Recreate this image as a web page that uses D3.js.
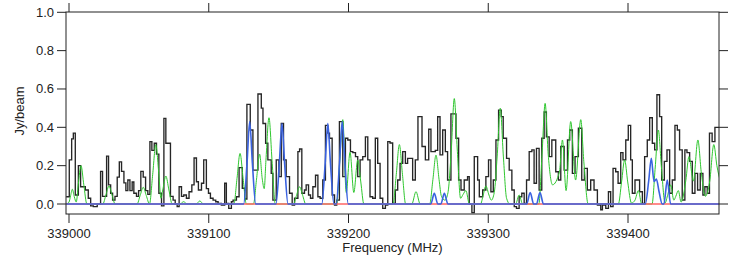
<!DOCTYPE html>
<html><head><meta charset="utf-8">
<script src="https://cdn.jsdelivr.net/npm/d3@7/dist/d3.min.js"></script>
<style>body{margin:0;background:#fff}svg{display:block}</style>
</head><body><svg id="c" width="747" height="257"></svg>
<script>
const xTicks = [339000, 339100, 339200, 339300, 339400];
const yTicks = [0.0, 0.2, 0.4, 0.6, 0.8, 1.0];

// observed spectrum: left edge of each step (MHz) and flux (Jy/beam)
const obsFreq = [
338998, 339000.2, 339001.9, 339003.1, 339004.5, 339006.7, 339008.3, 339011.7, 339013.8, 339015.5,
339017.4, 339020.2, 339022.6, 339024.0, 339026.9, 339028.3, 339029.8, 339031.2, 339032.9, 339034.5,
339036.0, 339037.6, 339039.3, 339040.7, 339042.1, 339043.6, 339045.2, 339046.4, 339048.3, 339049.8,
339051.4, 339053.1, 339054.8, 339056.4, 339057.9, 339059.3, 339061.0, 339062.6, 339064.3, 339066.2,
339067.9, 339069.3, 339072.6, 339074.5, 339076.0, 339077.4, 339078.8, 339080.5, 339082.1, 339084.0,
339085.9, 339087.9, 339089.5, 339091.2, 339092.6, 339094.8, 339096.4, 339098.3, 339099.8, 339101.2,
339103.1, 339105.0, 339106.7, 339109.0, 339111.4, 339112.6, 339114.3, 339116.2, 339117.4, 339119.8,
339121.7, 339124.0, 339125.7, 339127.3, 339129.7, 339131.6, 339135.2, 339137.6, 339138.8, 339140.7,
339142.3, 339144.7, 339145.9, 339148.3, 339150.2, 339151.9, 339153.5, 339155.4, 339157.8, 339159.7,
339161.4, 339163.8, 339165.0, 339166.6, 339168.5, 339169.7, 339171.4, 339172.8, 339174.5, 339176.4,
339178.1, 339179.7, 339181.6, 339183.5, 339185.2, 339186.4, 339188.3, 339190.0, 339191.6, 339193.5,
339195.9, 339197.8, 339199.5, 339201.4, 339203.1, 339205.0, 339206.6, 339208.3, 339210.2, 339212.1,
339213.8, 339215.4, 339217.3, 339219.2, 339220.9, 339222.6, 339224.5, 339226.4, 339228.1, 339229.7,
339231.6, 339233.5, 339235.2, 339236.9, 339238.8, 339240.7, 339242.3, 339245.9, 339247.8, 339249.7,
339252.6, 339255.0, 339257.4, 339259.0, 339262.1, 339263.8, 339265.5, 339267.4, 339269.3, 339270.9,
339273.3, 339276.9, 339278.8, 339280.5, 339282.8, 339285.2, 339286.4, 339288.3, 339290.0, 339292.4,
339293.6, 339296.0, 339298.3, 339300.2, 339301.9, 339303.6, 339305.5, 339307.4, 339309.3, 339310.7,
339313.1, 339315.0, 339316.9, 339318.6, 339320.2, 339322.1, 339324.0, 339325.7, 339327.4, 339329.3,
339331.2, 339332.8, 339334.5, 339336.4, 339338.3, 339340.0, 339341.6, 339343.6, 339345.5, 339348.3,
339350.2, 339351.9, 339354.3, 339356.7, 339358.3, 339360.2, 339362.1, 339364.5, 339366.9, 339368.8,
339370.9, 339373.3, 339375.7, 339378.1, 339380.5, 339381.7, 339384.1, 339386.0, 339387.6, 339389.3,
339391.2, 339392.9, 339394.8, 339396.4, 339398.4, 339400.2, 339401.9, 339403.1, 339405.0, 339408.3,
339410.3, 339411.9, 339413.8, 339415.5, 339417.4, 339419.1, 339420.7, 339422.6, 339424.1, 339426.0,
339427.9, 339429.8, 339431.7, 339433.6, 339435.3, 339436.9, 339438.8, 339440.7, 339442.2, 339444.1,
339446.0, 339447.9, 339449.8, 339451.7, 339453.6, 339455.0, 339456.7, 339458.3, 339460.2, 339462.2,
339466];
const obsFlux = [
0.038, 0.23, 0.34, 0.37, 0.047, 0.20, 0.09, 0.073, 0.03, -0.01,
-0.014, 0.0, 0.17, 0.04, 0.25, 0.10, 0.056, 0.02, 0.04, 0.14,
0.22, 0.17, 0.11, 0.07, 0.125, 0.07, 0.115, 0.056, 0.04, 0.07,
0.17, 0.14, 0.07, 0.05, 0.325, 0.28, 0.317, 0.26, 0.056, -0.01,
0.447, 0.317, 0.04, 0.02, 0.0, -0.014, 0.09, 0.04, 0.047, 0.03,
0.064, 0.10, 0.24, 0.116, 0.073, 0.108, 0.23, 0.08, 0.056, 0.03,
0.02, 0.012, 0.003, -0.005, 0.108, 0.003, -0.023, 0.012, 0.02, 0.038,
0.19, 0.082, 0.026, 0.52, 0.386, 0.177, 0.574, 0.50, 0.42, 0.317,
0.23, 0.16, 0.02, 0.23, 0.143, 0.42, 0.23, 0.143, 0.056, -0.005,
0.03, 0.273, 0.287, 0.056, 0.073, 0.10, 0.047, 0.03, 0.09, 0.15,
0.038, 0.03, 0.125, 0.41, 0.37, 0.343, 0.047, -0.005, 0.02, 0.43,
0.143, 0.343, 0.334, 0.273, 0.268, 0.247, 0.143, 0.23, 0.247, 0.35,
0.23, 0.038, 0.03, 0.343, 0.212, 0.03, -0.023, -0.005, 0.325, 0.318,
0.003, 0.073, 0.125, 0.212, 0.273, 0.212, 0.238, 0.125, 0.23, 0.456,
0.30, 0.23, 0.39, 0.273, 0.28, 0.455, 0.256, 0.386, 0.273, 0.125,
0.47, 0.343, 0.125, 0.073, 0.125, 0.143, 0.0, -0.045, 0.247, 0.125,
0.038, 0.073, 0.143, 0.23, 0.064, 0.125, 0.334, 0.49, 0.456, 0.343,
0.238, 0.177, 0.073, -0.014, -0.023, 0.038, 0.056, 0.003, 0.125, 0.273,
0.282, 0.108, 0.29, 0.073, 0.343, 0.48, 0.35, 0.247, 0.334, 0.168,
0.125, 0.30, 0.177, 0.334, 0.386, 0.16, 0.247, 0.395, 0.125, 0.186,
0.073, 0.125, 0.073, -0.005, -0.03, -0.005, -0.023, 0.064, -0.014, 0.186,
0.168, 0.108, 0.268, 0.23, 0.334, 0.41, 0.23, 0.056, 0.125, 0.064,
0.003, 0.247, 0.334, 0.45, 0.317, 0.282, 0.57, 0.456, 0.125, 0.222,
0.282, 0.056, 0.125, 0.41, 0.386, 0.282, 0.021, 0.282, 0.268, 0.222,
0.056, 0.16, 0.073, 0.16, 0.047, 0.09, 0.056, 0.37, 0.325, 0.40,
0.40];

// model 1 (green)
const greenFreq = [
338998, 339000.0, 339001.2, 339002.4, 339003.7, 339005.2, 339006.6, 339008.6, 339010.6, 339012.8,
339024.2, 339026.4, 339028.6, 339030.8, 339033.0, 339048.7, 339050.9, 339053.1, 339055.3, 339057.6,
339059.9, 339062.1, 339064.3, 339065.8, 339067.1, 339069.3, 339071.5, 339073.8, 339079.5, 339082.0,
339084.5, 339091.0, 339093.6, 339096.2, 339118.0, 339120.2, 339122.4, 339124.6, 339126.9, 339132.0,
339134.2, 339136.4, 339138.3, 339139.7, 339140.9, 339143.1, 339145.3, 339147.6, 339160.6, 339162.8,
339165.0, 339167.2, 339169.4, 339191.4, 339193.7, 339195.9, 339198.4, 339201.1, 339203.8, 339206.6,
339208.8, 339211.0, 339231.9, 339234.2, 339236.4, 339238.6, 339240.9, 339245.3, 339248.3, 339251.3,
339258.1, 339260.4, 339262.6, 339264.8, 339266.5, 339269.0, 339271.2, 339273.5, 339275.7, 339277.9,
339280.2, 339282.0, 339284.0, 339286.5, 339294.5, 339296.4, 339298.3, 339300.5, 339302.2, 339304.3,
339306.4, 339308.6, 339310.8, 339313.1, 339315.5, 339319.6, 339322.1, 339324.6, 339336.2, 339338.5,
339340.7, 339342.9, 339346.0, 339350.9, 339353.1, 339355.7, 339359.0, 339362.5, 339366.2, 339368.4,
339371.5, 339393.1, 339395.4, 339397.6, 339399.8, 339402.5, 339405.0, 339407.4, 339409.8, 339417.2,
339419.5, 339421.7, 339423.9, 339426.5, 339428.5, 339430.5, 339432.8, 339434.2, 339436.0, 339438.0,
339441.4, 339443.6, 339446.8, 339450.0, 339452.5, 339455.3, 339458.5, 339461.4, 339463.6, 339466.0];
const greenFlux = [
0, 0.01, 0.045, 0.077, 0.04, 0.01, 0.1, 0.2, 0.1, 0,
0, 0.047, 0.094, 0.047, 0, 0, 0.044, 0.087, 0.044, 0,
0.155, 0.31, 0.155, 0.03, 0.073, 0.146, 0.073, 0, 0, 0.012,
0, 0, 0.016, 0, 0, 0.132, 0.264, 0.132, 0, 0,
0.13, 0.26, 0.13, 0.08, 0.225, 0.45, 0.225, 0, 0, 0.045,
0.09, 0.045, 0, 0, 0.22, 0.44, 0.06, 0.27, 0.06, 0.23,
0.115, 0, 0, 0.155, 0.31, 0.155, 0, 0, 0.064, 0,
0, 0.128, 0.255, 0.128, 0.04, 0.02, 0.06, 0.275, 0.55, 0.275,
0.03, 0.05, 0.07, 0, 0, 0.047, 0.094, 0.047, 0.02, 0.06,
0.25, 0.5, 0.25, 0.03, 0, 0, 0.047, 0, 0, 0.26,
0.525, 0.26, 0.1, 0.167, 0.334, 0.07, 0.43, 0.125, 0.44, 0.22,
0, 0, 0.115, 0.23, 0.115, 0.005, 0.02, 0.07, 0, 0,
0.193, 0.386, 0.193, 0.005, 0.05, 0.1, 0.02, 0.04, 0.07, 0.01,
0.124, 0.247, 0.12, 0.334, 0.16, 0.04, 0.12, 0.31, 0.2, 0.12];

// model 2 (blue)
const blueFreq = [
338998, 339125.0, 339127.4, 339129.3, 339131.2, 339133.6, 339148.1, 339150.5, 339152.4, 339154.3,
339156.7, 339180.9, 339183.3, 339185.2, 339187.1, 339189.6, 339191.2, 339193.6, 339195.5, 339197.4,
339199.8, 339258.9, 339261.4, 339263.9, 339266.1, 339268.6, 339271.1, 339327.5, 339330.0, 339332.5,
339334.5, 339337.0, 339339.5, 339412.4, 339414.8, 339416.7, 339418.6, 339420.3, 339422.2, 339424.5,
339425.7, 339428.1, 339430.5, 339466];
const blueFlux = [
0, 0, 0.215, 0.43, 0.215, 0, 0, 0.21, 0.42, 0.21,
0, 0, 0.21, 0.42, 0.21, 0, 0, 0.215, 0.43, 0.215,
0, 0, 0.056, 0, 0, 0.056, 0, 0, 0.06, 0,
0, 0.06, 0, 0, 0.12, 0.238, 0.117, 0.13, 0.065, 0,
0, 0.125, 0, 0];

// model 3 (red)
const redFreq = [338998, 339466];
const redFlux = [0, 0];

const svg = d3.select("#c");
const L = 66, R = 719, T = 12, B = 214;
const x = d3.scaleLinear().domain([339000, 339400]).range([69, 628]);
const y = d3.scaleLinear().domain([0, 1]).range([204, 12.3]);
const fs = "13px 'Liberation Sans', Arial, sans-serif";
const ink = "#222";

svg.append("clipPath").attr("id","clp").append("rect").attr("x",L).attr("y",T).attr("width",R-L).attr("height",B-T);
const g = svg.append("g").attr("clip-path","url(#clp)");

function draw(fr, fl, color, curve, w) {
  const pts = d3.zip(fr, fl);
  const line = d3.line().x(d=>x(d[0])).y(d=>y(d[1])).curve(curve);
  g.append("path").attr("d", line(pts)).attr("fill","none").attr("stroke",color)
    .attr("stroke-width",w).attr("stroke-linejoin","miter");
}
draw(obsFreq, obsFlux, "#262626", d3.curveStepAfter, 1.35);
draw(greenFreq, greenFlux, "#2fc72f", d3.curveMonotoneX, 1);
draw(redFreq, redFlux, "#ff6464", d3.curveLinear, 1.6);
draw(blueFreq, blueFlux, "#3a62e0", d3.curveMonotoneX, 1.6);

svg.append("rect").attr("x",L).attr("y",T).attr("width",R-L).attr("height",B-T)
  .attr("fill","none").attr("stroke",ink).attr("stroke-width",1);

const ax = svg.append("g").attr("stroke",ink).attr("stroke-width",1);
yTicks.forEach(v=>{
  ax.append("line").attr("x1",L-9).attr("x2",L).attr("y1",y(v)).attr("y2",y(v));
  ax.append("line").attr("x1",R).attr("x2",R+9).attr("y1",y(v)).attr("y2",y(v));
  svg.append("text").attr("x",L-12).attr("y",y(v)+4.5).attr("text-anchor","end")
    .style("font",fs).attr("fill",ink).text(v.toFixed(1));
});
xTicks.forEach(v=>{
  ax.append("line").attr("x1",x(v)).attr("x2",x(v)).attr("y1",B).attr("y2",B+9);
  ax.append("line").attr("x1",x(v)).attr("x2",x(v)).attr("y1",T-9).attr("y2",T);
  svg.append("text").attr("x",x(v)).attr("y",237.5).attr("text-anchor","middle")
    .style("font",fs).attr("fill",ink).text(v);
});
svg.append("text").attr("x",(L+R)/2).attr("y",252).attr("text-anchor","middle")
  .style("font",fs).attr("fill",ink).text("Frequency (MHz)");
svg.append("text").attr("transform","translate(24,111) rotate(-90)").attr("text-anchor","middle")
  .style("font",fs).attr("fill",ink).text("Jy/beam");
</script></body></html>
